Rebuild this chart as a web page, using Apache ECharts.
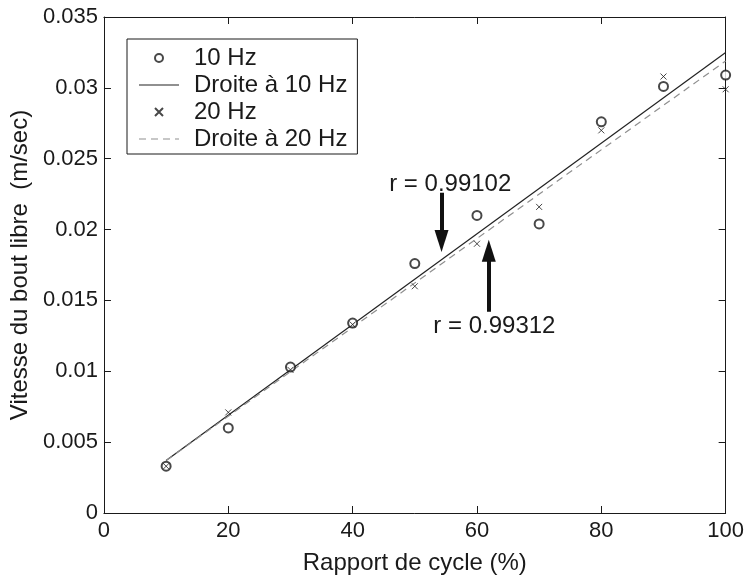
<!DOCTYPE html>
<html>
<head>
<meta charset="utf-8">
<script src="https://cdn.jsdelivr.net/npm/echarts@6/dist/echarts.min.js"></script>
<style>
  html, body { margin: 0; padding: 0; background: #fff; }
  #chart { width: 747px; height: 580px; }
</style>
</head>
<body>
<div id="chart"></div>
<script>
// Duty cycle (%) on the x axis
const dutyCycle = [10, 20, 30, 40, 50, 60, 70, 80, 90, 100];

// Free-end speed (m/s) measured at 10 Hz and 20 Hz
const speed10Hz = [0.0033, 0.0060, 0.0103, 0.0134, 0.0176, 0.0210, 0.0204, 0.0276, 0.0301, 0.0309];
const speed20Hz = [0.0033, 0.0071, 0.0101, 0.0133, 0.0160, 0.0190, 0.0216, 0.0270, 0.0308, 0.0299];

// Fitted lines, given by their end points [duty cycle, speed]
const fitLine10Hz = [[10, 0.0037], [100, 0.0325]];
const fitLine20Hz = [[10, 0.0037], [100, 0.0319]];

// Correlation coefficients, their arrows (tail and arrow-head centre) and label spots
const rLabels = ['r = 0.99102', 'r = 0.99312'];
const arrowFrom = [[54.3, 0.0226], [61.9, 0.0142]];
const arrowHead = [[54.3, 0.0192], [61.9, 0.0185]];
const rLabelAt = [[55.7, 0.0232], [62.8, 0.0132]];

// Axis ticks
const xTicks = [0, 20, 40, 60, 80, 100];
const yTicks = [0, 0.005, 0.01, 0.015, 0.02, 0.025, 0.03, 0.035];

const FONT = '"Liberation Sans", Arial, Helvetica, sans-serif';
const INK = '#1a1a1a';
const DASH_GREY = '#8f8f8f';

const pairs = (xs, ys) => xs.map((x, i) => [x, ys[i]]);

const chart = echarts.init(document.getElementById('chart'), null, { renderer: 'canvas' });

const frameAxisX = (pos, showLabel) => ({
  type: 'value',
  position: pos,
  min: xTicks[0],
  max: xTicks[xTicks.length - 1],
  interval: xTicks[1] - xTicks[0],
  axisLine: { show: true, onZero: false, lineStyle: { color: INK, width: 1 } },
  axisTick: { show: true, inside: true, length: 7, lineStyle: { color: INK } },
  axisLabel: {
    show: showLabel, color: INK, fontFamily: FONT, fontSize: 22, margin: 7
  },
  splitLine: { show: false }
});

const frameAxisY = (pos, showLabel) => ({
  type: 'value',
  position: pos,
  min: yTicks[0],
  max: yTicks[yTicks.length - 1],
  interval: yTicks[1] - yTicks[0],
  axisLine: { show: true, onZero: false, lineStyle: { color: INK, width: 1 } },
  axisTick: { show: true, inside: true, length: 7, lineStyle: { color: INK } },
  axisLabel: {
    show: showLabel, color: INK, fontFamily: FONT, fontSize: 22, margin: 6,
    formatter: v => String(+v.toFixed(3))
  },
  splitLine: { show: false }
});

const xBottom = frameAxisX('bottom', true);
xBottom.name = 'Rapport de cycle (%)';
xBottom.nameLocation = 'middle';
xBottom.nameGap = 38;
xBottom.nameTextStyle = { color: INK, fontFamily: FONT, fontSize: 24 };

const yLeft = frameAxisY('left', true);
yLeft.name = 'Vitesse du bout libre  (m/sec)';
yLeft.nameLocation = 'middle';
yLeft.nameGap = 48;
yLeft.nameTextStyle = { color: INK, fontFamily: FONT, fontSize: 24 };

const crossPath = 'path://M0,0L10,10M10,0L0,10';
const solidIcon = 'path://M0,0H40V1.2H0Z';
const dashIcon = 'path://M0,0H7V1.2H0Z M12,0H19V1.2H12Z M24,0H31V1.2H24Z M36,0H40V1.2H36Z';

chart.setOption({
  animation: false,
  backgroundColor: '#fff',
  grid: { left: 95, right: 20, top: 17, bottom: 66, containLabel: false },
  xAxis: [xBottom, frameAxisX('top', false)],
  yAxis: [yLeft, frameAxisY('right', false)],
  legend: {
    orient: 'vertical',
    left: 127,
    top: 39,
    padding: [7, 10, 3, 12],
    itemGap: 3,
    itemWidth: 40,
    itemHeight: 8,
    backgroundColor: '#fff',
    borderColor: INK,
    borderWidth: 1,
    borderRadius: 0,
    textStyle: { color: INK, fontFamily: FONT, fontSize: 24, lineHeight: 20, padding: [0, 0, 0, 10] },
    data: [
      { name: '10 Hz' },
      { name: 'Droite à 10 Hz', icon: solidIcon, itemStyle: { color: '#222', borderWidth: 0 } },
      { name: '20 Hz' },
      { name: 'Droite à 20 Hz', icon: dashIcon, itemStyle: { color: DASH_GREY, borderWidth: 0 } }
    ]
  },
  series: [
    {
      name: '10 Hz',
      type: 'scatter',
      data: pairs(dutyCycle, speed10Hz),
      symbol: 'emptyCircle',
      symbolSize: 9,
      itemStyle: { color: INK, borderColor: INK, borderWidth: 1 },
      z: 5
    },
    {
      name: 'Droite à 10 Hz',
      type: 'line',
      data: fitLine10Hz,
      symbol: 'none',
      lineStyle: { color: '#222', width: 1.2, type: 'solid' },
      itemStyle: { color: '#222' },
      z: 3,
      markLine: {
        silent: true,
        symbol: ['none', 'triangle'],
        symbolSize: [14, 22],
        lineStyle: { color: '#111', width: 4, type: 'solid' },
        label: { show: false },
        data: [
          [{ coord: arrowFrom[0] }, { coord: arrowHead[0] }],
          [{ coord: arrowFrom[1] }, { coord: arrowHead[1] }]
        ]
      },
      markPoint: {
        silent: true,
        symbol: 'circle',
        symbolSize: 0,
        label: {
          show: true, position: 'inside', color: INK,
          fontFamily: FONT, fontSize: 24,
          formatter: p => p.name
        },
        data: [
          { name: rLabels[0], coord: rLabelAt[0] },
          { name: rLabels[1], coord: rLabelAt[1] }
        ]
      }
    },
    {
      name: '20 Hz',
      type: 'scatter',
      data: pairs(dutyCycle, speed20Hz),
      symbol: crossPath,
      symbolSize: 6,
      itemStyle: { color: INK, borderColor: INK, borderWidth: 1 },
      z: 5
    },
    {
      name: 'Droite à 20 Hz',
      type: 'line',
      data: fitLine20Hz,
      symbol: 'none',
      lineStyle: { color: DASH_GREY, width: 1.2, type: [7, 5] },
      itemStyle: { color: DASH_GREY },
      z: 3
    }
  ]
});
</script>
</body>
</html>
